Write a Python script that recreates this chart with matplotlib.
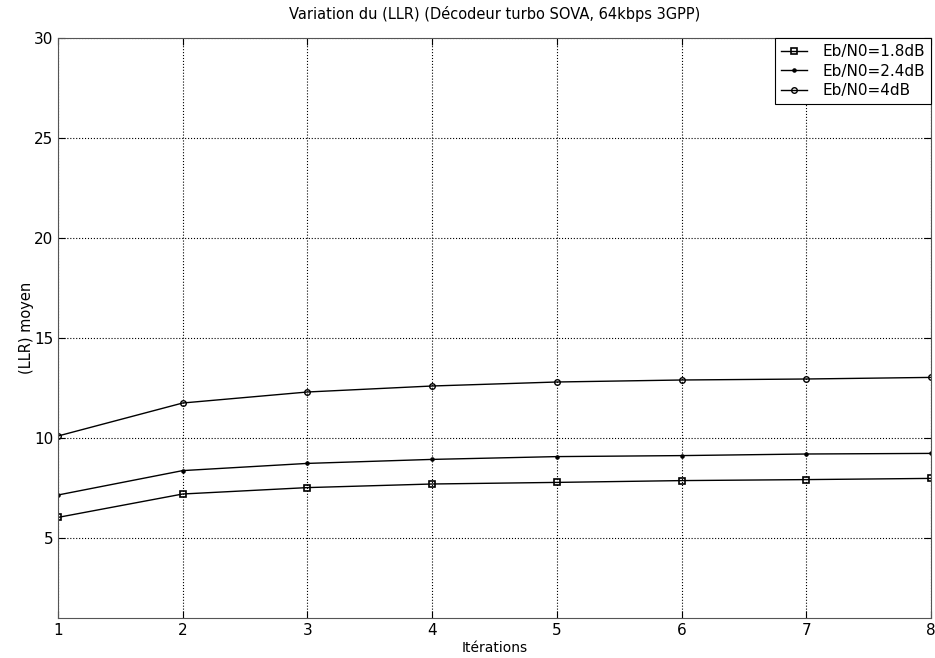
import matplotlib
matplotlib.use("Agg")
import matplotlib.pyplot as plt

iterations = [1, 2, 3, 4, 5, 6, 7, 8]
llr_18db = [6.03, 7.2, 7.52, 7.7, 7.78, 7.87, 7.92, 7.98]
llr_24db = [7.15, 8.37, 8.73, 8.93, 9.07, 9.12, 9.2, 9.23]
llr_4db = [10.1, 11.75, 12.3, 12.6, 12.8, 12.9, 12.95, 13.03]

plt.rcParams['font.family'] = ['DejaVu Sans']

fig = plt.figure(figsize=(9.35, 6.58), dpi=100)
ax = fig.add_axes([58 / 935, 1 - 618 / 658, (931 - 58) / 935, (618 - 38) / 658])

ax.plot(iterations, llr_18db, color='black', lw=1, marker='s', ms=4.5,
        mfc='none', mec='black', mew=1.2, label='Eb/N0=1.8dB')
ax.plot(iterations, llr_24db, color='black', lw=1, marker='.', ms=4.5,
        label='Eb/N0=2.4dB')
ax.plot(iterations, llr_4db, color='black', lw=1, marker='o', ms=4,
        mfc='none', mec='black', mew=1, label='Eb/N0=4dB')

ax.set_xlim(1, 8)
ax.set_ylim(1, 30)
ax.set_xticks(iterations)
ax.set_yticks([5, 10, 15, 20, 25, 30])
ax.grid(True, color='black', linestyle=':', linewidth=0.8)
ax.tick_params(direction='in', length=5, labelsize=11, top=True, right=True)
for s in ax.spines.values():
    s.set_color('#555555')

ax.set_title('Variation du (LLR) (Décodeur turbo SOVA, 64kbps 3GPP)', fontsize=10.5, pad=14)
ax.set_xlabel('Itérations', fontsize=10, labelpad=2)
ax.set_ylabel('(LLR) moyen', fontsize=10.5, labelpad=0)

leg = ax.legend(loc='upper right', fontsize=11, fancybox=False, framealpha=1,
                edgecolor='black', borderaxespad=0.0, handlelength=1.7,
                labelspacing=0.3, borderpad=0.4, handletextpad=1.0)
leg.get_frame().set_linewidth(0.8)

fig.savefig('out.png', dpi=100)
